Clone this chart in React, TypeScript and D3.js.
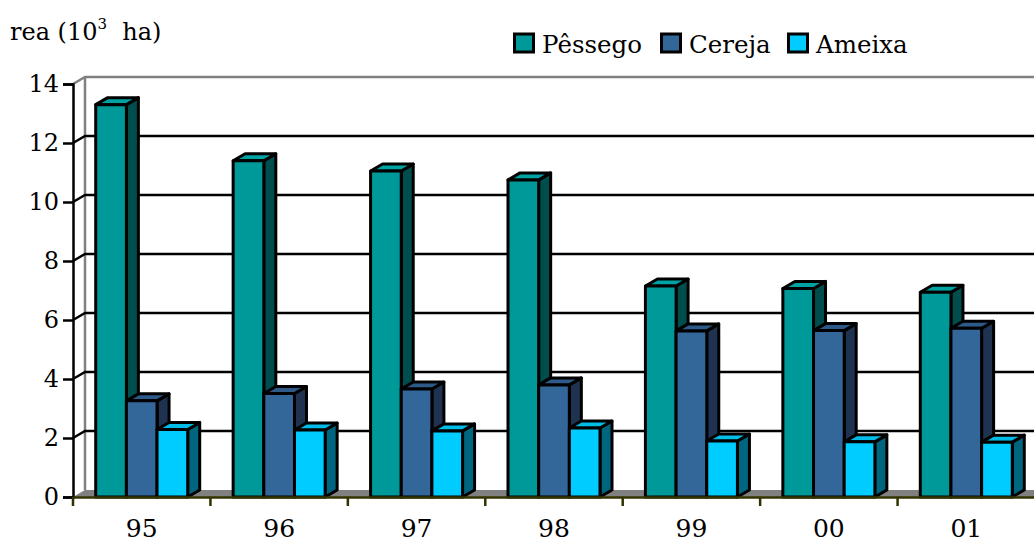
import * as d3 from 'd3';
import { useRef, useEffect } from 'react';

const categories = ['95', '96', '97', '98', '99', '00', '01'];
const seriesNames = ['Pêssego', 'Cereja', 'Ameixa'];
const pessego = [13.3, 11.4, 11.05, 10.75, 7.15, 7.07, 6.94];
const cereja = [3.26, 3.51, 3.66, 3.8, 5.63, 5.64, 5.72];
const ameixa = [2.29, 2.27, 2.24, 2.34, 1.9, 1.87, 1.86];
const yTicks = [0, 2, 4, 6, 8, 10, 12, 14];

// front / top / side colours per series
const colors = [
  { front: '#009999', top: '#00a3a3', side: '#004d4d' },
  { front: '#336699', top: '#2d5a88', side: '#1f3350' },
  { front: '#00ccff', top: '#00bde8', side: '#006680' },
];

export default function App() {
  const ref = useRef<SVGSVGElement>(null);

  useEffect(() => {
    const width = 1034;
    const height = 547;
    const left = 73;
    const right = 1035;
    const bottom = 497;
    const top = 84;
    const dx = 12; // depth of the 3D box
    const dy = -7;
    const font = 'DejaVu Serif';

    const svg = d3.select(ref.current)
      .attr('width', width)
      .attr('height', height);
    svg.selectAll('*').remove();

    const x = d3.scaleBand().domain(categories).range([left, right]);
    const y = d3.scaleLinear().domain([0, 14]).range([bottom, top]);
    const inner = d3.scaleBand().domain(seriesNames).range([0, 92]);

    // back wall
    svg.append('path')
      .attr('d', `M${left},${top}L${left + dx},${top + dy}L${width + 20},${top + dy}`)
      .attr('fill', 'none').attr('stroke', '#808080').attr('stroke-width', 2.5);
    svg.append('line')
      .attr('x1', left + dx).attr('x2', left + dx)
      .attr('y1', top + dy).attr('y2', bottom + dy)
      .attr('stroke', '#808080').attr('stroke-width', 2.5);

    // grid lines on the wall
    svg.append('g').selectAll('path')
      .data(yTicks.filter(t => t > 0 && t < 14))
      .join('path')
      .attr('d', t => `M${left},${y(t)}L${left + dx},${y(t) + dy}L${width + 20},${y(t) + dy}`)
      .attr('fill', 'none').attr('stroke', '#000').attr('stroke-width', 2.5);

    // floor
    svg.append('path')
      .attr('d', `M${left},${bottom}L${left + dx},${bottom + dy}L${right + dx},${bottom + dy}L${right},${bottom}Z`)
      .attr('fill', '#808080');

    // bars
    const data = [pessego, cereja, ameixa];
    const g = svg.append('g').attr('stroke', '#000').attr('stroke-width', 3).attr('stroke-linejoin', 'round');
    categories.forEach((c, i) => {
      const cx = x(c)! + x.bandwidth() / 2 - 46;
      seriesNames.forEach((s, j) => {
        const x0 = cx + inner(s)!;
        const x1 = x0 + inner.bandwidth();
        const yv = y(data[j][i]);
        const col = colors[j];
        g.append('path')
          .attr('d', `M${x1},${yv}L${x1 + dx},${yv + dy}L${x1 + dx},${bottom + dy}L${x1},${bottom}Z`)
          .attr('fill', col.side);
        g.append('path')
          .attr('d', `M${x0},${yv}L${x0 + dx},${yv + dy}L${x1 + dx},${yv + dy}L${x1},${yv}Z`)
          .attr('fill', col.top);
        g.append('rect')
          .attr('x', x0).attr('y', yv)
          .attr('width', x1 - x0).attr('height', bottom - yv)
          .attr('fill', col.front);
      });
    });

    // y axis
    const yAxis = svg.append('g')
      .attr('transform', `translate(${left},0)`)
      .call(d3.axisLeft(y).tickValues(yTicks).tickSize(10).tickPadding(4));
    yAxis.selectAll('path, line').attr('stroke', '#000').attr('stroke-width', 2.5);
    yAxis.selectAll('text')
      .attr('font-family', font).attr('font-size', 24).attr('fill', '#000');

    // x axis
    const xAxis = svg.append('g')
      .attr('transform', `translate(0,${bottom})`)
      .call(d3.axisBottom(x).tickSize(0).tickPadding(22));
    xAxis.select('.domain').attr('stroke', '#333300').attr('stroke-width', 2.5);
    xAxis.selectAll('text')
      .attr('font-family', font).attr('font-size', 25).attr('fill', '#000');
    xAxis.selectAll('line.sep')
      .data(categories)
      .join('line')
      .attr('class', 'sep')
      .attr('x1', d => x(d)!).attr('x2', d => x(d)!)
      .attr('y1', 0).attr('y2', 9)
      .attr('stroke', '#333300').attr('stroke-width', 2.5);

    // title
    const title = svg.append('text')
      .attr('x', 10).attr('y', 40)
      .attr('font-family', font).attr('font-size', 24).attr('fill', '#000');
    title.append('tspan').text('rea (10');
    title.append('tspan').attr('font-size', 15).attr('dy', -11).text('3');
    title.append('tspan').attr('dy', 11).text('\u00a0 ha)');

    // legend
    const legendX = [513, 660, 787];
    const leg = svg.append('g');
    seriesNames.forEach((s, j) => {
      leg.append('rect')
        .attr('x', legendX[j] + 1.5).attr('y', 34)
        .attr('width', 19).attr('height', 18)
        .attr('fill', colors[j].front).attr('stroke', '#000').attr('stroke-width', 3);
      leg.append('text')
        .attr('x', legendX[j] + 29).attr('y', 53)
        .attr('font-family', font).attr('font-size', 24.5).attr('fill', '#000')
        .text(s);
    });
  }, []);

  return (
    <svg ref={ref} style={{ position: 'absolute', left: 0, top: 0 }}></svg>
  );
}
